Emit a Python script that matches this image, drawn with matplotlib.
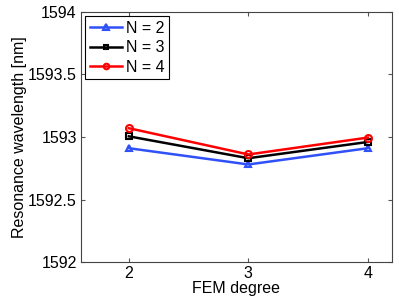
import matplotlib
matplotlib.use("Agg")
import matplotlib.pyplot as plt

plt.rcParams['font.family'] = ['Liberation Sans', 'DejaVu Sans']
plt.rcParams['font.size'] = 11.5

fem_degree = [2, 3, 4]
n2 = [1592.91, 1592.78, 1592.91]
n3 = [1593.005, 1592.83, 1592.96]
n4 = [1593.07, 1592.86, 1592.995]

fig = plt.figure(figsize=(3.99, 3.04), dpi=100)
ax = fig.add_axes([0.203, 0.138, 0.779, 0.823])

ax.plot(fem_degree, n2, color='#3050f8', marker='^', ms=5, lw=1.8, mfc='none', mew=1.5, label='N = 2')
ax.plot(fem_degree, n3, color='black', marker='s', ms=4, lw=1.8, mfc='none', mew=1.5, label='N = 3')
ax.plot(fem_degree, n4, color='red', marker='o', ms=5, lw=1.8, mfc='none', mew=1.5, label='N = 4')

ax.set_xlim(1.6, 4.2)
ax.set_ylim(1592, 1594)
ax.set_xticks(fem_degree)
ax.set_yticks([1592, 1592.5, 1593, 1593.5, 1594])
ax.set_yticklabels(['1592', '1592.5', '1593', '1593.5', '1594'])
ax.tick_params(direction='in', top=True, right=True, length=3, color='#555555', pad=3)
for s in ax.spines.values():
    s.set_color('#444444')
    s.set_linewidth(0.8)

ax.set_xlabel('FEM degree', labelpad=0)
ax.set_ylabel('Resonance wavelength [nm]', labelpad=1)

leg = ax.legend(loc='upper left', fancybox=False, edgecolor='black', framealpha=1,
                handlelength=2.0, handletextpad=0.25, borderpad=0.3, labelspacing=0.28,
                borderaxespad=0.25, markerscale=0.8)
leg.get_frame().set_linewidth(0.8)

fig.savefig('out.png', dpi=100)
